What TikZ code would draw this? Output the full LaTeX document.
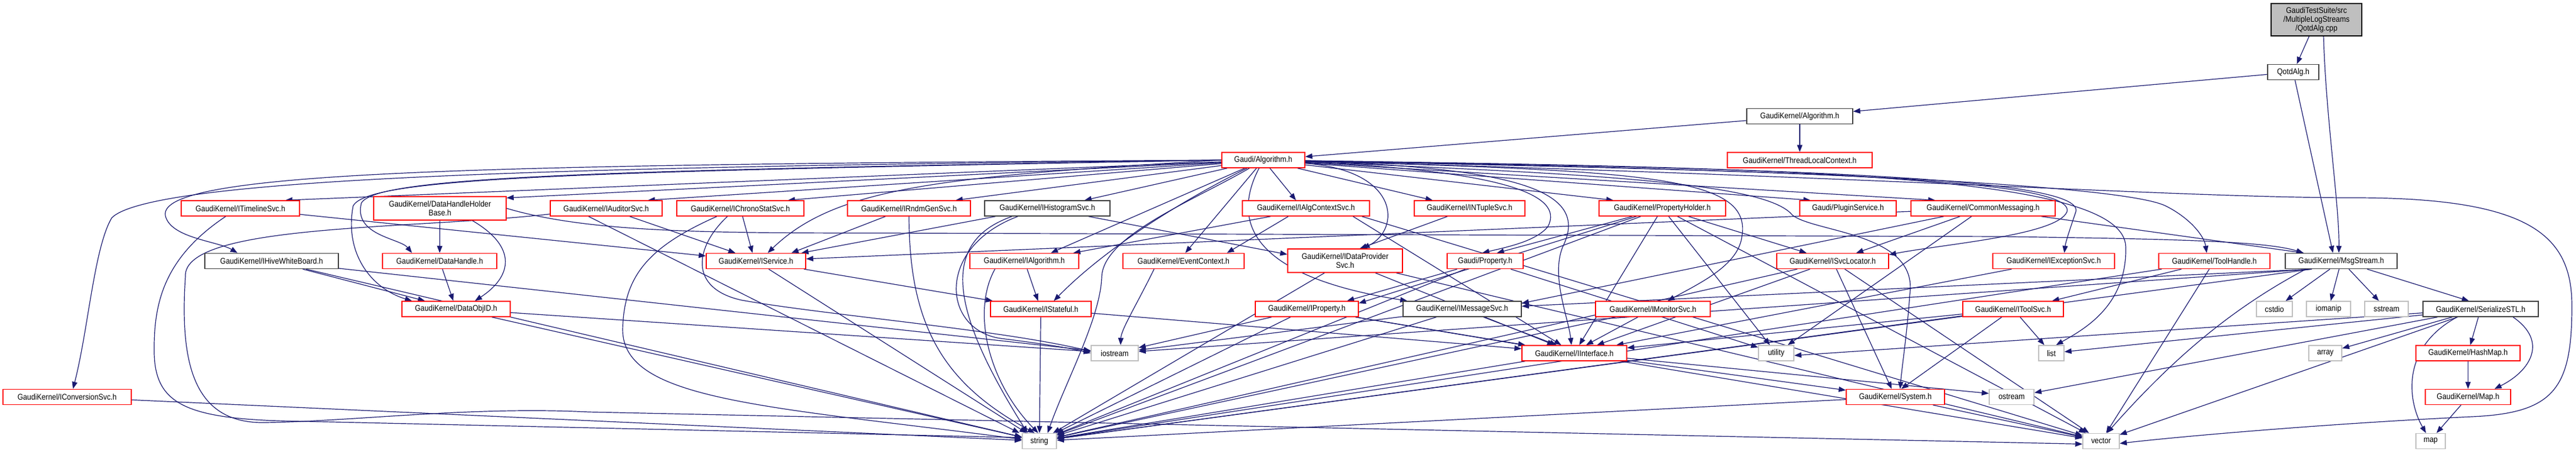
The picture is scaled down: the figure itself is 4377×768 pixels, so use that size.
\documentclass[tikz,border=0pt]{standalone}
\usepackage{fontspec}
\setmainfont{Liberation Sans}[FakeStretch=0.88]
\usetikzlibrary{arrows.meta}
\definecolor{edgeblue}{HTML}{191970}
\definecolor{nodered}{HTML}{FF0000}
\definecolor{nodegrey}{HTML}{BFBFBF}
\definecolor{nodedark}{HTML}{404040}
\pgfdeclarelayer{bglayer}
\pgfdeclarelayer{edgelayer}
\pgfsetlayers{bglayer,edgelayer,main}
\tikzset{
  base/.style={draw, fill=white, line width=1.5pt, inner sep=0pt, minimum height=26pt, align=center, font=\fontsize{14}{15}\selectfont, text=black},
  rn/.style={base, draw=nodered},
  bn/.style={base, draw=nodedark},
  gn/.style={base, draw=nodegrey},
  e/.style={draw=edgeblue, line width=1.2pt, -{Triangle[length=12pt,width=9pt]}},
}
\begin{document}
\begin{tikzpicture}[x=1pt,y=-1pt]
\begin{pgfonlayer}{bglayer}
\fill[white] (0,0) rectangle (4377,768);
\end{pgfonlayer}
\useasboundingbox (0,0) rectangle (4377,768);
% nodes
\node[base, draw=black, fill=nodegrey, minimum width=154pt, minimum height=55pt] (root) at (3936,33.5) {GaudiTestSuite/src\\/MultipleLogStreams\\/QotdAlg.cpp};
\node[bn, minimum width=87pt] (qotdh) at (3896.5,122.5) {QotdAlg.h};
\node[bn, minimum width=180pt] (gka) at (3058,197.5) {GaudiKernel/Algorithm.h};
\node[rn, minimum width=246pt] (tlc) at (3058,272) {GaudiKernel/ThreadLocalContext.h};
\node[rn, minimum width=141pt] (ga) at (2146.5,272) {Gaudi/Algorithm.h};
% row A
\node[rn, minimum width=201pt] (tline) at (408.5,354) {GaudiKernel/ITimelineSvc.h};
\node[rn, minimum width=225pt, minimum height=40pt] (dhhb) at (747.5,354) {GaudiKernel/DataHandleHolder\\Base.h};
\node[rn, minimum width=190pt] (iaud) at (1030,354) {GaudiKernel/IAuditorSvc.h};
\node[rn, minimum width=216pt] (ichr) at (1258,354) {GaudiKernel/IChronoStatSvc.h};
\node[rn, minimum width=209pt] (irnd) at (1544.5,354) {GaudiKernel/IRndmGenSvc.h};
\node[bn, minimum width=213pt] (ihist) at (1779.5,354) {GaudiKernel/IHistogramSvc.h};
\node[rn, minimum width=216pt] (ialgctx) at (2219,354) {GaudiKernel/IAlgContextSvc.h};
\node[rn, minimum width=188pt] (intup) at (2497,354) {GaudiKernel/INTupleSvc.h};
\node[rn, minimum width=215pt] (pholder) at (2824.5,354) {GaudiKernel/PropertyHolder.h};
\node[rn, minimum width=164pt] (plugin) at (3140,354) {Gaudi/PluginService.h};
\node[rn, minimum width=245pt] (cmsg) at (3369.5,354) {GaudiKernel/CommonMessaging.h};
% row B
\node[bn, minimum width=227pt] (hive) at (461.5,443.5) {GaudiKernel/IHiveWhiteBoard.h};
\node[rn, minimum width=194pt] (dh) at (747,443.5) {GaudiKernel/DataHandle.h};
\node[rn, minimum width=169pt] (isvc) at (1284.5,443.5) {GaudiKernel/IService.h};
\node[rn, minimum width=185pt] (ialg) at (1740.5,443.5) {GaudiKernel/IAlgorithm.h};
\node[rn, minimum width=206pt] (evctx) at (2011,443.5) {GaudiKernel/EventContext.h};
\node[rn, minimum width=195pt, minimum height=40pt] (idp) at (2285.5,443) {GaudiKernel/IDataProvider\\Svc.h};
\node[rn, minimum width=129pt] (prop) at (2523.5,443.5) {Gaudi/Property.h};
\node[rn, minimum width=190pt] (isvcloc) at (3114,443.5) {GaudiKernel/ISvcLocator.h};
\node[rn, minimum width=207pt] (iexc) at (3489.5,443.5) {GaudiKernel/IExceptionSvc.h};
\node[rn, minimum width=189pt] (toolh) at (3762.5,443.5) {GaudiKernel/ToolHandle.h};
\node[bn, minimum width=190pt] (msgs) at (3978,443.5) {GaudiKernel/MsgStream.h};
% row C
\node[rn, minimum width=184pt] (doid) at (775,525) {GaudiKernel/DataObjID.h};
\node[rn, minimum width=171pt] (istate) at (1768.5,525) {GaudiKernel/IStateful.h};
\node[rn, minimum width=175pt] (iprop) at (2220.5,525) {GaudiKernel/IProperty.h};
\node[bn, minimum width=201pt] (imsg) at (2484.5,525) {GaudiKernel/IMessageSvc.h};
\node[rn, minimum width=195pt] (imon) at (2808.5,525) {GaudiKernel/IMonitorSvc.h};
\node[rn, minimum width=171pt] (itool) at (3420.5,525) {GaudiKernel/IToolSvc.h};
\node[gn, minimum width=61pt] (cstdio) at (3864.5,525) {cstdio};
\node[gn, minimum width=75pt] (iomanip) at (3956.5,525) {iomanip};
\node[gn, minimum width=74pt] (sstream) at (4055,525) {sstream};
\node[bn, minimum width=196pt] (sstl) at (4215,525) {GaudiKernel/SerializeSTL.h};
% row D
\node[gn, minimum width=80pt] (iostream) at (1894,600) {iostream};
\node[rn, minimum width=178pt] (iintf) at (2675,600) {GaudiKernel/IInterface.h};
\node[gn, minimum width=60pt] (utility) at (3018,600) {utility};
\node[gn, minimum width=43pt] (list) at (3485.5,600) {list};
\node[gn, minimum width=56pt] (array) at (3951,600) {array};
\node[rn, minimum width=177pt] (hashmap) at (4193.5,600) {GaudiKernel/HashMap.h};
% row E
\node[rn, minimum width=218pt] (iconv) at (114,674.5) {GaudiKernel/IConversionSvc.h};
\node[rn, minimum width=167pt] (system) at (3220.5,674.5) {GaudiKernel/System.h};
\node[gn, minimum width=76pt] (ostream) at (3418,674.5) {ostream};
\node[rn, minimum width=145pt] (maph) at (4193.5,674.5) {GaudiKernel/Map.h};
% row F
\node[gn, minimum width=58pt] (string) at (1766,749.5) {string};
\node[gn, minimum width=62pt] (vector) at (3570,749.5) {vector};
\node[gn, minimum width=50pt] (map) at (4130,749.5) {map};

\begin{pgfonlayer}{edgelayer}
% top chain
\draw[e] (root) -- (qotdh);
\draw[e] ([xshift=12pt]root.south) .. controls (3952,200) and (3975,350) .. ([xshift=-4pt]msgs.north);
\draw[e] (qotdh) -- (gka);
\draw[e] (qotdh) -- ([xshift=-14pt]msgs.north);
\draw[e] (gka) -- (ga);
\draw[e] (gka) -- (tlc);
% Gaudi/Algorithm.h fan
\draw[e] (ga) -- ([xshift=-25pt]tline.north east);
\draw[e] (ga) -- ([yshift=-3pt]dhhb.north east);
\draw[e] (ga) -- ([xshift=-25pt]iaud.north east);
\draw[e] (ga) -- ([xshift=-28pt]ichr.north east);
\draw[e] (ga) -- ([xshift=-26pt]irnd.north east);
\draw[e] (ga) -- ([xshift=-44pt]ihist.north east);
\draw[e] (ga) -- ([xshift=-17pt]ialgctx.north);
\draw[e] (ga) -- ([xshift=32pt]intup.north west);
\draw[e] (ga) -- ([xshift=25pt]pholder.north west);
\draw[e] (ga) -- ([xshift=19pt]plugin.north west);
\draw[e] (ga) -- ([xshift=42pt]cmsg.north west);
\draw[e] (ga.west) .. controls (1000,283) and (260,300) .. (190,370) .. controls (160,420) and (150,560) .. ([xshift=10pt]iconv.north);
\draw[e] (ga.west) .. controls (800,280) and (250,290) .. (282,370) .. controls (295,405) and (370,410) .. ([xshift=-58pt]hive.north);
\draw[e] (ga.west) .. controls (1000,290) and (640,300) .. (614,345) .. controls (600,400) and (680,405) .. ([xshift=-47pt]dh.north);
\draw[e] (ga.west) .. controls (1000,292) and (625,300) .. (600,350) .. controls (585,430) and (630,490) .. ([xshift=-75pt]doid.north);
\draw[e] (ga.west) .. controls (1600,300) and (1420,318) .. ([xshift=20pt]isvc.north);
\draw[e] (ga) -- ([xshift=45pt]ialg.north);
\draw[e] (ga) -- ([xshift=3pt]evctx.north);
\draw[e] (ga) .. controls (2010,340) and (1880,420) .. ([xshift=22pt]istate.north);
\draw[e] (ga) .. controls (2030,340) and (1875,400) .. (1872,470) .. controls (1870,540) and (1810,650) .. ([xshift=14pt]string.north);
\draw[e] (ga) .. controls (2380,290) and (2380,390) .. ([xshift=30pt]idp.north);
\draw[e] (ga) .. controls (2090,380) and (2130,470) .. ([xshift=8pt]imsg.north west);
\draw[e] (ga) .. controls (2550,290) and (2660,330) .. (2630,385) .. controls (2610,410) and (2560,420) .. ([xshift=-5pt]prop.north);
\draw[e] (ga) .. controls (2600,285) and (2700,330) .. (2655,420) .. controls (2635,470) and (2665,540) .. ([xshift=-5pt]iintf.north);
\draw[e] (ga) .. controls (2800,290) and (2975,300) .. (2960,400) .. controls (2955,450) and (2890,480) .. ([xshift=25pt]imon.north);
\draw[e] (ga) .. controls (3000,290) and (3530,300) .. (3512,360) .. controls (3495,400) and (3300,415) .. ([yshift=-3pt]isvcloc.north east);
\draw[e] (ga) .. controls (3000,285) and (3545,300) .. (3527,360) .. controls (3517,390) and (3510,410) .. ([xshift=18pt]iexc.north);
\draw[e] (ga) .. controls (3200,290) and (3620,320) .. (3680,350) .. controls (3720,370) and (3745,400) .. ([xshift=-13pt]toolh.north);
\draw[e] (ga) .. controls (2700,295) and (3000,310) .. (3045,365) .. controls (3080,395) and (3260,395) .. (3245,500) .. controls (3240,570) and (3232,620) .. ([xshift=8pt]system.north);
\draw[e] (ga) .. controls (3100,285) and (3610,300) .. (3612,420) .. controls (3614,520) and (3540,560) .. ([xshift=8pt]list.north);
\draw[e] (ga) .. controls (3200,300) and (3700,336) .. (4000,336) .. controls (4300,336) and (4370,400) .. (4370,520) .. controls (4370,660) and (4340,702) .. (4200,708) .. controls (3950,720) and (3700,742) .. ([yshift=-4pt]vector.east);
% ITimelineSvc
\draw[e] (tline) -- (isvc);
\draw[e] ([xshift=-25pt]tline.south) .. controls (275,440) and (261,520) .. (262,600) .. controls (264,690) and (320,714) .. (520,716) -- ([yshift=6pt]string.west);
% DataHandleHolderBase
\draw[e] (dhhb) -- (dh);
\draw[e] ([xshift=55pt]dhhb.south) .. controls (880,420) and (870,470) .. ([xshift=32pt]doid.north);
\draw[e] (dhhb.east) .. controls (1000,395) and (1200,396) .. (1500,396) -- (3400,402) .. controls (3700,406) and (3850,410) .. ([xshift=-64pt]msgs.north);
% IAuditorSvc
\draw[e] (iaud) -- ([xshift=-35pt]isvc.north);
\draw[e] ([xshift=-30pt]iaud.south) -- ([xshift=-4pt]string.north west);
\draw[e] ([yshift=4pt]iaud.south west) .. controls (700,390) and (310,380) .. (315,470) .. controls (305,620) and (330,720) .. (450,718) .. controls (600,716) and (800,690) .. (1000,700) -- ([yshift=-5pt]vector.west);
% IChronoStatSvc
\draw[e] (ichr) -- ([xshift=-6pt]isvc.north);
\draw[e] ([xshift=-40pt]ichr.south) .. controls (1100,420) and (1060,470) .. (1058,560) .. controls (1058,680) and (1300,690) .. ([yshift=3pt]string.west);
\draw[e] ([xshift=-22pt]ichr.south) .. controls (1180,420) and (1170,490) .. (1260,510) .. controls (1400,535) and (1700,560) .. ([yshift=3pt]iostream.west);
% IRndmGenSvc
\draw[e] ([xshift=-40pt]irnd.south) -- ([xshift=-25pt]isvc.north east);
\draw[e] (irnd.south) .. controls (1545,550) and (1600,650) .. ([xshift=-8pt]string.north);
% IHistogramSvc
\draw[e] ([xshift=-88pt]ihist.south) -- ([xshift=-8pt]isvc.north east);
\draw[e] ([xshift=70pt]ihist.south) -- ([yshift=-10pt]idp.north west);
\draw[e] ([xshift=-60pt]ihist.south) .. controls (1600,410) and (1610,520) .. ([xshift=-20pt]string.north);
\draw[e] ([xshift=-50pt]ihist.south) .. controls (1590,420) and (1600,560) .. (1700,575) .. controls (1780,585) and (1820,592) .. (iostream.west);
% IAlgorithm
\draw[e] (ialg) -- (istate);
\draw[e] ([xshift=-50pt]ialg.south) .. controls (1650,530) and (1680,650) .. ([xshift=-2pt]string.north);
% EventContext
\draw[e] ([xshift=-50pt]evctx.south) .. controls (1930,520) and (1905,560) .. ([xshift=10pt]iostream.north);
% IAlgContextSvc
\draw[e] ([xshift=-60pt]ialgctx.south) -- ([xshift=-10pt]ialg.north east);
\draw[e] ([xshift=-30pt]ialgctx.south) -- ([xshift=-30pt]evctx.north east);
\draw[e] ([xshift=95pt]ialgctx.south) -- (vector);
\draw[e] ([xshift=80pt]ialgctx.south) -- (iintf);
% INTupleSvc
\draw[e] (intup) -- ([xshift=25pt]idp.north);
% IDataProviderSvc
\draw[e] (idp) -- (iintf);
\draw[e] (idp) -- (string);
\draw[e] (idp) -- (vector);
% Property
\draw[e] (prop) -- ([xshift=-20pt]iprop.north east);
\draw[e] (prop) -- (string);
\draw[e] (prop) -- (utility);
% PropertyHolder
\draw[e] (pholder) -- ([xshift=20pt]prop.north);
\draw[e] (pholder) -- ([yshift=-4pt]iprop.north east);
\draw[e] (pholder) -- (isvcloc);
\draw[e] (pholder) -- (utility);
\draw[e] (pholder) -- (iintf);
\draw[e] (pholder) -- (string);
\draw[e] (pholder) -- (vector);
% CommonMessaging
\draw[e] (cmsg) -- (isvc);
\draw[e] (cmsg) -- ([yshift=-4pt]imsg.north east);
\draw[e] (cmsg) -- ([xshift=40pt]isvcloc.north);
\draw[e] (cmsg) -- (utility);
\draw[e] (cmsg) -- ([xshift=-64pt]msgs.north);
% ISvcLocator
\draw[e] (isvcloc) -- (iintf);
\draw[e] (isvcloc) -- (string);
\draw[e] (isvcloc) -- (system);
\draw[e] (isvcloc) -- (vector);
% IExceptionSvc
\draw[e] (iexc) -- (iintf);
% ToolHandle
\draw[e] (toolh) -- ([xshift=-20pt]itool.north east);
\draw[e] (toolh) -- (string);
\draw[e] (toolh) -- (vector);
% MsgStream
\draw[e] ([xshift=-50pt]msgs.south) -- (imsg);
\draw[e] ([xshift=-50pt]msgs.south) -- (string);
\draw[e] ([xshift=-50pt]msgs.south) -- (iostream);
\draw[e] ([xshift=-60pt]msgs.south) .. controls (3800,520) and (3700,600) .. ([xshift=10pt]vector.north);
\draw[e] (msgs) -- (cstdio);
\draw[e] (msgs) -- (iomanip);
\draw[e] (msgs) -- (sstream);
\draw[e] (msgs) -- ([xshift=-20pt]sstl.north);
% SerializeSTL
\draw[e] (sstl) -- ([yshift=-4pt]utility.east);
\draw[e] (sstl) -- (list);
\draw[e] (sstl) -- (ostream);
\draw[e] (sstl) -- (vector);
\draw[e] (sstl) -- (array);
\draw[e] (sstl) -- (hashmap);
\draw[e] ([xshift=55pt]sstl.south) .. controls (4330,580) and (4300,630) .. ([xshift=45pt]maph.north);
\draw[e] ([xshift=-40pt]sstl.south) .. controls (4080,590) and (4090,680) .. ([xshift=-8pt]map.north);
\draw[e] (hashmap) -- (maph);
\draw[e] (maph) -- ([xshift=10pt]map.north);
% IToolSvc
\draw[e] (itool) -- (list);
\draw[e] (itool) -- ([xshift=10pt]system.north);
\draw[e] (itool) -- (string);
\draw[e] (itool) -- (iintf);
% IMonitorSvc
\draw[e] (imon) -- ([xshift=20pt]iintf.north);
\draw[e] (imon) -- (string);
% IMessageSvc
\draw[e] (imsg) -- ([xshift=-30pt]iintf.north);
\draw[e] (imsg) -- (string);
\draw[e] (imsg) -- (iostream);
% IProperty
\draw[e] (iprop) -- (iintf);
\draw[e] (iprop) -- (string);
\draw[e] (iprop) -- (iostream);
\draw[e] (iprop) -- (vector);
% IStateful
\draw[e] (istate) -- (iintf);
\draw[e] (istate) -- (string);
% IService
\draw[e] (isvc) -- (istate);
\draw[e] (isvc) -- (string);
% IInterface
\draw[e] (iintf) -- (system);
\draw[e] (iintf) -- ([yshift=6pt]ostream.west);
\draw[e] (iintf) -- (string);
% System
\draw[e] (system) -- (string);
\draw[e] (system) -- (vector);
% IHiveWhiteBoard, DataHandle, DataObjID, IConversionSvc
\draw[e] (hive) -- (doid);
\draw[e] (hive) -- (string);
\draw[e] (hive) -- (iostream);
\draw[e] (dh) -- (doid);
\draw[e] (doid) -- (iostream);
\draw[e] (doid) -- (string);
\draw[e] (iconv) -- (string);
\end{pgfonlayer}
\end{tikzpicture}
\end{document}
